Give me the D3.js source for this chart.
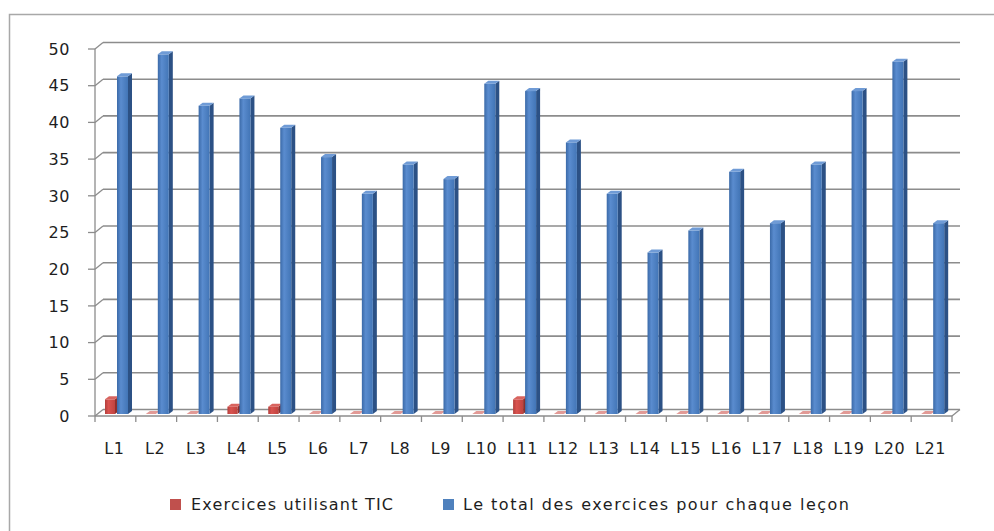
<!DOCTYPE html>
<html>
<head>
<meta charset="utf-8">
<script src="https://cdn.jsdelivr.net/npm/d3@7/dist/d3.min.js"></script>
<style>
  html, body { margin: 0; padding: 0; background: #fff; }
  svg { display: block; }
  text { font-family: "DejaVu Sans", Verdana, sans-serif; fill: #1e1e1e; }
</style>
</head>
<body>
<svg id="chart" width="994" height="531"></svg>
<script>
const categories = ["L1","L2","L3","L4","L5","L6","L7","L8","L9","L10","L11","L12","L13","L14","L15","L16","L17","L18","L19","L20","L21"];
const ticValues = [2,0,0,1,1,0,0,0,0,0,2,0,0,0,0,0,0,0,0,0,0];
const totalValues = [46,49,42,43,39,35,30,34,32,45,44,37,30,22,25,33,26,34,44,48,26];
const seriesNames = ["Exercices utilisant TIC", "Le total des exercices pour chaque leçon"];
const yTickValues = [0,5,10,15,20,25,30,35,40,45,50];

const svg = d3.select("#chart");
const DX = 8, DY = -6.5;        // wall depth offset
const BDX = 4, BDY = -3;        // bar depth
const BOFF_X = 2, BOFF_Y = -2;  // bar front plane offset

const x = d3.scaleBand().domain(categories).range([95, 952]).padding(0);
const y = d3.scaleLinear().domain([0, 50]).range([416, 49]);

// defs: gradients
const defs = svg.append("defs");
function grad(id, stops) {
  const g = defs.append("linearGradient").attr("id", id).attr("x1", "0%").attr("x2", "100%").attr("y1", "0%").attr("y2", "0%");
  stops.forEach(s => g.append("stop").attr("offset", s[0]).attr("stop-color", s[1]));
}
grad("gBlue", [["0%", "#3b6aa8"], ["35%", "#5a8ccf"], ["100%", "#4275b6"]]);
grad("gRed", [["0%", "#b33f3c"], ["35%", "#d9534f"], ["100%", "#c0433f"]]);

// outer frame (left and top)
svg.append("path").attr("d", "M9.5,531 L9.5,14.5 L994,14.5").attr("fill", "none").attr("stroke", "#a8a8a8").attr("stroke-width", 1.5);

const gridColor = "#8c8c8c";
const x0 = x.range()[0], x1 = x.range()[1];

// back wall gridlines + side wall diagonals + front ticks
yTickValues.forEach(t => {
  svg.append("line").attr("x1", x0 + DX).attr("x2", x1 + DX).attr("y1", y(t) + DY).attr("y2", y(t) + DY)
    .attr("stroke", gridColor).attr("stroke-width", 1.6);
  svg.append("line").attr("x1", x0).attr("x2", x0 + DX).attr("y1", y(t)).attr("y2", y(t) + DY)
    .attr("stroke", gridColor).attr("stroke-width", 1.3);
  svg.append("line").attr("x1", x0 - 7).attr("x2", x0).attr("y1", y(t)).attr("y2", y(t))
    .attr("stroke", gridColor).attr("stroke-width", 1.3);
  svg.append("text").attr("x", 70).attr("y", y(t)).attr("dy", "0.36em").attr("text-anchor", "end")
    .attr("font-size", 16).attr("letter-spacing", 0.6).text(t);
});
// front vertical axis
svg.append("line").attr("x1", x0).attr("x2", x0).attr("y1", y(0)).attr("y2", y(50)).attr("stroke", gridColor).attr("stroke-width", 1.3);
// floor front edge and right edge
svg.append("line").attr("x1", x0).attr("x2", x1).attr("y1", y(0)).attr("y2", y(0)).attr("stroke", gridColor).attr("stroke-width", 1.5);
svg.append("line").attr("x1", x1).attr("x2", x1 + DX).attr("y1", y(0)).attr("y2", y(0) + DY).attr("stroke", gridColor).attr("stroke-width", 1.3);
// x ticks
const boundaries = categories.map(c => x(c)).concat([x1]);
boundaries.forEach(b => {
  svg.append("line").attr("x1", b).attr("x2", b).attr("y1", y(0)).attr("y2", y(0) + 6).attr("stroke", gridColor).attr("stroke-width", 1.3);
});

// bars
function drawBar(g, fx, value, w, fill, side, top) {
  const yb = y(0) + BOFF_Y;
  const yt = y(value) + BOFF_Y;
  g.append("path").attr("d", `M${fx + w},${yb} L${fx + w + BDX},${yb + BDY} L${fx + w + BDX},${yt + BDY} L${fx + w},${yt} Z`).attr("fill", side);
  if (value > 0) g.append("rect").attr("x", fx).attr("y", yt).attr("width", w).attr("height", yb - yt).attr("fill", fill);
  g.append("path").attr("d", `M${fx},${yt} L${fx + BDX},${yt + BDY} L${fx + w + BDX},${yt + BDY} L${fx + w},${yt} Z`).attr("fill", top);
}
const gBars = svg.append("g");
categories.forEach((c, i) => {
  const cx = x(c) + BOFF_X;
  drawBar(gBars, cx + 8, ticValues[i], 10, "url(#gRed)", "#8e2f2c", ticValues[i] > 0 ? "#d8645f" : "#e29a96");
  drawBar(gBars, cx + 20, totalValues[i], 11, "url(#gBlue)", "#2c5185", "#6f9bd6");
});

// x labels
categories.forEach(c => {
  svg.append("text").attr("x", x(c) + x.bandwidth() / 2 - 1).attr("y", 454).attr("text-anchor", "middle")
    .attr("font-size", 16).attr("letter-spacing", 0.6).text(c);
});

// legend
const legend = [
  { name: seriesNames[0], color: "#c0504d", sx: 170, tx: 191, len: 202 },
  { name: seriesNames[1], color: "#4f81bd", sx: 443, tx: 463, len: 386 }
];
legend.forEach(l => {
  svg.append("rect").attr("x", l.sx).attr("y", 499).attr("width", 11).attr("height", 11).attr("fill", l.color);
  svg.append("text").attr("x", l.tx).attr("y", 510).attr("font-size", 16)
    .attr("textLength", l.len).attr("lengthAdjust", "spacing").text(l.name);
});
</script>
</body>
</html>
